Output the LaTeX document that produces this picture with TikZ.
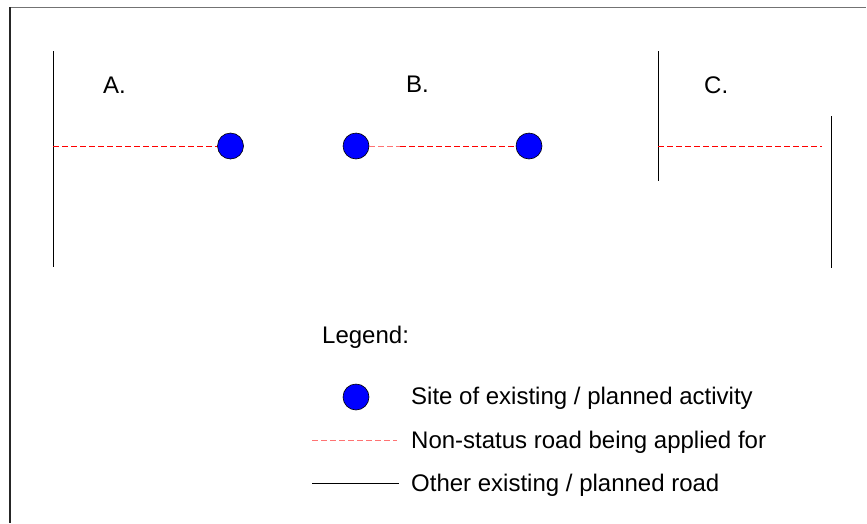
\documentclass[tikz,border=0pt]{standalone}
\usepackage{fontspec}
\setmainfont{Liberation Sans}
\begin{document}
\begin{tikzpicture}[x=1pt,y=-1pt,
  site/.style={circle,draw=black,line width=0.6pt,fill=blue,minimum size=26pt,inner sep=0pt},
  road/.style={black,line width=1pt},
  nsroad/.style={red,line width=1pt,dash pattern=on 6pt off 3pt},
  nsroadlight/.style={red!55,line width=1pt,dash pattern=on 6pt off 3pt},
  lbl/.style={anchor=base west,inner sep=0pt,font=\fontsize{24}{28}\selectfont}]
\useasboundingbox (0,0) rectangle (867,523);
\fill[white] (0,0) rectangle (867,523);
% frame
\draw[gray!90!black,line width=1.5pt] (10,7.5) -- (866,7.5);
\draw[black!85,line width=1.5pt] (10,7) -- (10,523);
% A
\coordinate (a1) at (53,51);
\coordinate (a2) at (53,267);
\coordinate (am) at (53,146);
\draw[road] (a1) -- (a2);
\node[site] (sa) at (230.5,146) {};
\draw[nsroad] (am) -- (sa.west);
\node[lbl] (la) at (103,93) {A.};
% B
\node[site] (sb1) at (356,146) {};
\node[site] (sb2) at (529,146) {};
\coordinate (bm) at (400,146);
\draw[nsroadlight] (sb1.east) -- (bm);
\draw[nsroad] (bm) -- (sb2.west);
\node[lbl] (lb) at (406,92) {B.};
% C
\coordinate (c1) at (658,51);
\coordinate (c2) at (658,181);
\coordinate (cm) at (658,146);
\coordinate (d1) at (831,116);
\coordinate (d2) at (831,268);
\coordinate (ce) at (822,146);
\draw[road] (c1) -- (c2);
\draw[road] (d1) -- (d2);
\draw[nsroad] (cm) -- (ce);
\node[lbl] (lc) at (704,93) {C.};
% legend
\node[lbl] (leg) at (322,343) {Legend:};
\node[site] (ls) at (356,397) {};
\node[lbl] (lt1) at (411,404) {Site of existing / planned activity};
\coordinate (n1) at (312,440);
\coordinate (n2) at (397,440);
\draw[nsroadlight] (n1) -- (n2);
\node[lbl] (lt2) at (411,448) {Non-status road being applied for};
\coordinate (o1) at (312,483);
\coordinate (o2) at (399,483);
\draw[road] (o1) -- (o2);
\node[lbl] (lt3) at (411,491) {Other existing / planned road};
\end{tikzpicture}
\end{document}
